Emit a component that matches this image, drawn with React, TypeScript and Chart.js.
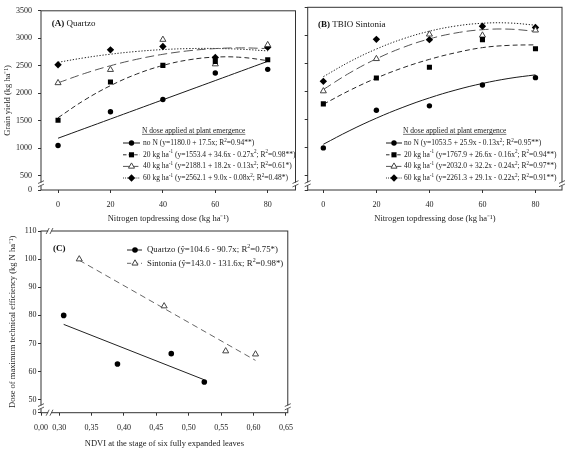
import React, { useEffect, useRef } from "react";
import { Chart, registerables } from "chart.js";
Chart.register(...registerables);

const SERIF = "'Liberation Serif', 'Times New Roman', Times, serif";

// ---------------- data ----------------
const nDoses = [0, 20, 40, 60, 80];
const quartzoNoN = [1048, 1663, 1886, 2367, 2434];
const quartzo20 = [1506, 2205, 2506, 2580, 2608];
const quartzo40 = [2187, 2428, 2976, 2530, 2880];
const quartzo60 = [2518, 2789, 2849, 2650, 2837];

const sintoniaNoN = [989, 1661, 1740, 2112, 2244];
const sintonia20 = [1776, 2238, 2430, 2922, 2760];
const sintonia40 = [2004, 2580, 3018, 3000, 3090];
const sintonia60 = [2178, 2928, 2922, 3162, 3138];

const fitDoses = [0, 10, 20, 30, 40, 50, 60, 70, 80];
const quartzoFitNoN = [1180, 1355, 1530, 1705, 1880, 2055, 2230, 2405, 2580];
const quartzoFit20 = [1553, 1872, 2137, 2348, 2505, 2608, 2657, 2652, 2593];
const quartzoFit40 = [2188, 2357, 2500, 2617, 2708, 2773, 2812, 2825, 2812];
const quartzoFit60 = [2562, 2644, 2710, 2760, 2794, 2812, 2814, 2800, 2770];
const sintoniaFitNoN = [1054, 1300, 1520, 1714, 1882, 2024, 2140, 2230, 2294];
const sintoniaFit20 = [1768, 2018, 2236, 2420, 2570, 2690, 2780, 2820, 2830];
const sintoniaFit40 = [2032, 2330, 2580, 2782, 2936, 3042, 3100, 3110, 3072];
const sintoniaFit60 = [2261, 2530, 2755, 2936, 3073, 3166, 3215, 3220, 3181];

const ndviQuartzo = [0.307, 0.39, 0.473, 0.524];
const doseQuartzo = [80.0, 62.7, 66.4, 56.3];
const ndviSintonia = [0.331, 0.462, 0.557, 0.603];
const doseSintonia = [100.0, 83.3, 67.3, 66.2];
const fitNdviQuartzo = [0.307, 0.524];
const fitDoseQuartzo = [76.8, 57.1];
const fitNdviSintonia = [0.331, 0.603];
const fitDoseSintonia = [99.6, 64.0];

const doseTicks = [0, 20, 40, 60, 80];
const yieldTicks = [500, 1000, 1500, 2000, 2500, 3000, 3500];
const ndviTicks = [0.3, 0.35, 0.4, 0.45, 0.5, 0.55, 0.6, 0.65];
const mteTicks = [50, 60, 70, 80, 90, 100, 110];

const legendTitle = "N dose applied at plant emergence";
const quartzoLegend = [
  "no N (y=1180.0 + 17.5x; R^{2}=0.94**)",
  "20 kg ha^{-1} (y=1553.4 + 34.6x - 0.27x^{2}; R^{2}=0.98**)",
  "40 kg ha^{-1} (y=2188.1 + 18.2x - 0.13x^{2}; R^{2}=0.61*)",
  "60 kg ha^{-1} (y=2562.1 + 9.0x - 0.08x^{2}; R^{2}=0.48*)",
];
const sintoniaLegend = [
  "no N (y=1053.5 + 25.9x - 0.13x^{2}; R^{2}=0.95**)",
  "20 kg ha^{-1} (y=1767.9 + 26.6x - 0.16x^{2}; R^{2}=0.94**)",
  "40 kg ha^{-1} (y=2032.0 + 32.2x - 0.24x^{2}; R^{2}=0.97**)",
  "60 kg ha^{-1} (y=2261.3 + 29.1x - 0.22x^{2}; R^{2}=0.91**)",
];
const cLegend = [
  "Quartzo (ŷ=104.6 - 90.7x; R^{2}=0.75*)",
  "Sintonia (ŷ=143.0 - 131.6x; R^{2}=0.98*)",
];

// ---------------- helpers ----------------
type Seg = { t: string; sup?: boolean };
function parseRich(s: string): Seg[] {
  const out: Seg[] = [];
  const re = /\^\{([^}]*)\}/g;
  let last = 0;
  let m: RegExpExecArray | null;
  while ((m = re.exec(s))) {
    if (m.index > last) out.push({ t: s.slice(last, m.index) });
    out.push({ t: m[1], sup: true });
    last = re.lastIndex;
  }
  if (last < s.length) out.push({ t: s.slice(last) });
  return out;
}
function drawRich(ctx: CanvasRenderingContext2D, s: string, x: number, y: number, size: number, color = "#1a1a1a") {
  let cx = x;
  ctx.fillStyle = color;
  ctx.textBaseline = "middle";
  ctx.textAlign = "left";
  for (const seg of parseRich(s)) {
    const fs = seg.sup ? size * 0.68 : size;
    ctx.font = `${fs}px ${SERIF}`;
    ctx.fillText(seg.t, cx, y + (seg.sup ? -size * 0.36 : 0));
    cx += ctx.measureText(seg.t).width;
  }
  return cx - x;
}

type Style = {
  pointStyle: any;
  radius: number;
  fill: string;
  stroke: string;
  dash: number[];
  lineColor: string;
};

function drawMarker(ctx: CanvasRenderingContext2D, st: Style, x: number, y: number) {
  ctx.save();
  ctx.setLineDash([]);
  ctx.fillStyle = st.fill;
  ctx.strokeStyle = st.stroke;
  ctx.lineWidth = 1;
  const r = st.radius;
  if (st.pointStyle === "circle") {
    ctx.beginPath();
    ctx.arc(x, y, r, 0, Math.PI * 2);
    ctx.fill();
  } else if (st.pointStyle === "rect") {
    const h = r * Math.SQRT1_2;
    ctx.fillRect(x - h, y - h, 2 * h, 2 * h);
  } else if (st.pointStyle === "rectRot") {
    ctx.beginPath();
    ctx.moveTo(x, y - r);
    ctx.lineTo(x + r, y);
    ctx.lineTo(x, y + r);
    ctx.lineTo(x - r, y);
    ctx.closePath();
    ctx.fill();
  } else if (st.pointStyle === "triangle") {
    ctx.beginPath();
    let rad = 0;
    ctx.moveTo(x + Math.sin(rad) * r, y - Math.cos(rad) * r);
    rad += (2 * Math.PI) / 3;
    ctx.lineTo(x + Math.sin(rad) * r, y - Math.cos(rad) * r);
    rad += (2 * Math.PI) / 3;
    ctx.lineTo(x + Math.sin(rad) * r, y - Math.cos(rad) * r);
    ctx.closePath();
    ctx.fill();
    ctx.stroke();
  }
  ctx.restore();
}

function breakOnVertical(ctx: CanvasRenderingContext2D, x: number, y: number) {
  ctx.save();
  ctx.fillStyle = "#fff";
  ctx.fillRect(x - 2, y - 1.6, 4, 3.2);
  ctx.strokeStyle = "#333";
  ctx.lineWidth = 0.8;
  ctx.beginPath();
  ctx.moveTo(x - 3, y - 0.6);
  ctx.lineTo(x + 3, y - 3.4);
  ctx.moveTo(x - 3, y + 2.8);
  ctx.lineTo(x + 3, y + 0.0);
  ctx.stroke();
  ctx.restore();
}
function breakOnHorizontal(ctx: CanvasRenderingContext2D, x: number, y: number) {
  ctx.save();
  ctx.fillStyle = "#fff";
  ctx.fillRect(x - 1.6, y - 2, 3.2, 4);
  ctx.strokeStyle = "#333";
  ctx.lineWidth = 0.8;
  ctx.beginPath();
  ctx.moveTo(x - 3.6, y + 3);
  ctx.lineTo(x - 0.6, y - 3);
  ctx.moveTo(x + 0.2, y + 3);
  ctx.lineTo(x + 3.2, y - 3);
  ctx.stroke();
  ctx.restore();
}

type Deco = {
  label: { bold: string; text: string; x: number; y: number; size: number };
  legend: {
    title?: string;
    titleX?: number;
    titleY?: number;
    rows: string[];
    rowYs: number[];
    lineX0: number;
    lineX1: number;
    markerX: number;
    textX: number;
    size: number;
    styles: Style[];
  };
  breaksY: number[];
  breaksX: number[];
};

function decoPlugin(d: Deco) {
  return {
    id: "deco",
    afterDraw(chart: any) {
      const ctx: CanvasRenderingContext2D = chart.ctx;
      const a = chart.chartArea;
      ctx.save();
      ctx.strokeStyle = "#333";
      ctx.lineWidth = 1;
      ctx.setLineDash([]);
      ctx.strokeRect(a.left, a.top, a.right - a.left, a.bottom - a.top);
      const ys = chart.scales.y;
      const xs = chart.scales.x;
      for (const v of d.breaksY) {
        const py = ys.getPixelForValue(v);
        breakOnVertical(ctx, a.left, py);
        breakOnVertical(ctx, a.right, py);
      }
      for (const v of d.breaksX) {
        const px = xs.getPixelForValue(v);
        breakOnHorizontal(ctx, px, a.bottom);
        breakOnHorizontal(ctx, px, a.top);
      }
      // panel label
      const L = d.label;
      ctx.fillStyle = "#111";
      ctx.textBaseline = "middle";
      ctx.textAlign = "left";
      ctx.font = `bold ${L.size}px ${SERIF}`;
      ctx.fillText(L.bold, L.x, L.y);
      const bw = ctx.measureText(L.bold).width;
      ctx.font = `${L.size}px ${SERIF}`;
      ctx.fillText(L.text, L.x + bw, L.y);
      // legend
      const G = d.legend;
      if (G.title) {
        ctx.font = `${G.size}px ${SERIF}`;
        ctx.fillStyle = "#1a1a1a";
        ctx.fillText(G.title, G.titleX!, G.titleY!);
        const tw = ctx.measureText(G.title).width;
        ctx.strokeStyle = "#1a1a1a";
        ctx.lineWidth = 0.6;
        ctx.beginPath();
        ctx.moveTo(G.titleX!, G.titleY! + G.size * 0.45);
        ctx.lineTo(G.titleX! + tw, G.titleY! + G.size * 0.45);
        ctx.stroke();
      }
      G.rows.forEach((row, i) => {
        const st = G.styles[i];
        const y = G.rowYs[i];
        ctx.save();
        ctx.strokeStyle = st.lineColor;
        ctx.lineWidth = 1;
        ctx.setLineDash(st.dash.map((v) => v * 0.7));
        ctx.beginPath();
        ctx.moveTo(G.lineX0, y);
        ctx.lineTo(G.lineX1, y);
        ctx.stroke();
        ctx.restore();
        drawMarker(ctx, st, G.markerX, y);
        drawRich(ctx, row, G.textX, y, G.size);
      });
      ctx.restore();
    },
  };
}

function pts(xs: number[], ys: number[]) {
  return xs.map((x, i) => ({ x, y: ys[i] }));
}

function pointDataset(data: any[], st: Style) {
  return {
    data,
    showLine: false,
    pointStyle: st.pointStyle,
    pointRadius: st.radius,
    pointHoverRadius: st.radius,
    pointBackgroundColor: st.fill,
    pointBorderColor: st.stroke,
    pointBorderWidth: st.pointStyle === "triangle" ? 1 : 0,
  };
}
function lineDataset(data: any[], st: Style) {
  return {
    data,
    showLine: true,
    pointRadius: 0,
    borderColor: st.lineColor,
    borderWidth: 1,
    borderDash: st.dash,
    tension: 0.4,
    fill: false,
  };
}

function axisFont(size: number) {
  return { family: SERIF, size };
}

type PanelSpec = {
  left: number;
  top: number;
  width: number;
  height: number;
  build: () => any;
};

function Panel({ spec }: { spec: PanelSpec }) {
  const ref = useRef<HTMLCanvasElement | null>(null);
  useEffect(() => {
    if (!ref.current) return;
    const chart = new Chart(ref.current, spec.build());
    return () => chart.destroy();
  }, []);
  return (
    <canvas
      ref={ref}
      width={spec.width}
      height={spec.height}
      style={{ position: "absolute", left: spec.left, top: spec.top, width: spec.width, height: spec.height }}
    />
  );
}

// -------- yield panels (A and B) --------
const Y_MIN = 237.5;
const Y_MAX = 3500;

function yieldStyles(): Style[] {
  return [
    { pointStyle: "circle", radius: 2.7, fill: "#000", stroke: "#000", dash: [], lineColor: "#1a1a1a" },
    { pointStyle: "rect", radius: 3.6, fill: "#000", stroke: "#000", dash: [5, 3], lineColor: "#2a2a2a" },
    { pointStyle: "triangle", radius: 3.5, fill: "#fff", stroke: "#444", dash: [9, 4], lineColor: "#555" },
    { pointStyle: "rectRot", radius: 3.7, fill: "#000", stroke: "#000", dash: [1.3, 1.7], lineColor: "#222" },
  ];
}

function yieldConfig(opts: {
  series: number[][];
  fits: number[][];
  legendRows: string[];
  showYLabels: boolean;
  xMin: number;
  xMax: number;
  padLeft: number;
  padRight: number;
  yAxisWidth: number;
  height: number;
  label: { bold: string; text: string; x: number; y: number };
  legendPos: { titleX: number; lineX0: number; lineX1: number; markerX: number; textX: number };
}) {
  const styles = yieldStyles();
  const datasets: any[] = [];
  opts.series.forEach((s, i) => datasets.push(pointDataset(pts(nDoses, s), styles[i])));
  opts.fits.forEach((f, i) => datasets.push(lineDataset(pts(fitDoses, f), styles[i])));
  const deco: Deco = {
    label: { ...opts.label, size: 9 },
    legend: {
      title: legendTitle,
      titleX: opts.legendPos.titleX,
      titleY: 131,
      rows: opts.legendRows,
      rowYs: [143, 154.8, 166.4, 178],
      lineX0: opts.legendPos.lineX0,
      lineX1: opts.legendPos.lineX1,
      markerX: opts.legendPos.markerX,
      textX: opts.legendPos.textX,
      size: 7.5,
      styles,
    },
    breaksY: [345],
    breaksX: [],
  };
  return {
    type: "scatter",
    data: { datasets },
    plugins: [decoPlugin(deco)],
    options: {
      responsive: false,
      animation: false,
      events: [],
      layout: { padding: { left: opts.padLeft, top: 7.3, right: opts.padRight, bottom: 0 } },
      plugins: { legend: { display: false }, tooltip: { enabled: false } },
      scales: {
        x: {
          type: "linear",
          min: opts.xMin,
          max: opts.xMax,
          afterBuildTicks: (s: any) => {
            s.ticks = doseTicks.map((v) => ({ value: v }));
          },
          afterFit: (s: any) => {
            s.height = opts.height - 190;
          },
          ticks: {
            font: axisFont(8),
            color: "#222",
            padding: 7,
            maxRotation: 0,
            autoSkip: false,
            callback: (v: any) => String(v),
          },
          grid: { display: true, drawOnChartArea: false, drawTicks: true, tickLength: 3, color: "#333" },
          border: { display: false },
          title: {
            display: true,
            text: "Nitrogen topdressing dose (kg ha⁻¹)",
            font: axisFont(8.5),
            color: "#222",
            padding: { top: 0, bottom: 2.5 },
          },
        },
        y: {
          type: "linear",
          min: Y_MIN,
          max: Y_MAX,
          afterBuildTicks: (s: any) => {
            s.ticks = [Y_MIN, ...yieldTicks].map((v) => ({ value: v }));
          },
          afterFit: (s: any) => {
            s.width = opts.yAxisWidth;
          },
          ticks: {
            display: opts.showYLabels,
            font: axisFont(8),
            color: "#222",
            padding: 6,
            autoSkip: false,
            callback: (v: any) => (v === Y_MIN ? "0" : String(v)),
          },
          grid: { display: true, drawOnChartArea: false, drawTicks: true, tickLength: 3, color: "#333" },
          border: { display: false },
          title: {
            display: opts.showYLabels,
            text: "Grain yield (kg ha⁻¹)",
            font: axisFont(8.5),
            color: "#222",
            padding: { top: 3, bottom: 0 },
          },
        },
      },
    },
  };
}

const panelA: PanelSpec = {
  left: 0,
  top: 0,
  width: 300,
  height: 226,
  build: () =>
    yieldConfig({
      series: [quartzoNoN, quartzo20, quartzo40, quartzo60],
      fits: [quartzoFitNoN, quartzoFit20, quartzoFit40, quartzoFit60],
      legendRows: quartzoLegend,
      showYLabels: true,
      xMin: -6.5,
      xMax: 90.6,
      padLeft: 0,
      padRight: 4.3,
      yAxisWidth: 41,
      height: 226,
      label: { bold: "(A)", text: " Quartzo", x: 51.7, y: 24 },
      legendPos: { titleX: 142, lineX0: 123, lineX1: 140, markerX: 131.5, textX: 143 },
    }),
};

const panelB: PanelSpec = {
  left: 300,
  top: 0,
  width: 270,
  height: 226,
  build: () =>
    yieldConfig({
      series: [sintoniaNoN, sintonia20, sintonia40, sintonia60],
      fits: [sintoniaFitNoN, sintoniaFit20, sintoniaFit40, sintoniaFit60],
      legendRows: sintoniaLegend,
      showYLabels: false,
      xMin: -5.9,
      xMax: 90,
      padLeft: 0,
      padRight: 8,
      yAxisWidth: 7.7,
      height: 226,
      label: { bold: "(B)", text: " TBIO Sintonia", x: 18, y: 25 },
      legendPos: { titleX: 103, lineX0: 86, lineX1: 102, markerX: 94, textX: 104 },
    }),
};

// -------- panel C --------
const C_XMIN = 0.272;
const C_XMAX = 0.6528;
const C_YMIN = 45.4;
const C_YMAX = 110;

const panelC: PanelSpec = {
  left: 0,
  top: 224,
  width: 300,
  height: 229,
  build: () => {
    const qStyle: Style = { pointStyle: "circle", radius: 2.8, fill: "#000", stroke: "#000", dash: [], lineColor: "#222" };
    const sStyle: Style = { pointStyle: "triangle", radius: 3.5, fill: "#fff", stroke: "#444", dash: [6, 4], lineColor: "#666" };
    const deco: Deco = {
      label: { bold: "(C)", text: "", x: 53, y: 24.3, size: 9 },
      legend: {
        rows: cLegend,
        rowYs: [26, 39.3],
        lineX0: 127,
        lineX1: 142,
        markerX: 135,
        textX: 147,
        size: 8.8,
        styles: [qStyle, sStyle],
      },
      breaksY: [47.4],
      breaksX: [0.2855],
    };
    return {
      type: "scatter",
      data: {
        datasets: [
          pointDataset(pts(ndviQuartzo, doseQuartzo), qStyle),
          pointDataset(pts(ndviSintonia, doseSintonia), sStyle),
          { ...lineDataset(pts(fitNdviQuartzo, fitDoseQuartzo), qStyle), tension: 0 },
          { ...lineDataset(pts(fitNdviSintonia, fitDoseSintonia), sStyle), tension: 0 },
        ],
      },
      plugins: [decoPlugin(deco)],
      options: {
        responsive: false,
        animation: false,
        events: [],
        layout: { padding: { left: 0, top: 7, right: 4.3, bottom: 0 } },
        plugins: { legend: { display: false }, tooltip: { enabled: false } },
        scales: {
          x: {
            type: "linear",
            min: C_XMIN,
            max: C_XMAX,
            afterBuildTicks: (s: any) => {
              s.ticks = [C_XMIN, ...ndviTicks].map((v) => ({ value: v }));
            },
            afterFit: (s: any) => {
              s.height = 229 - 188.7;
            },
            ticks: {
              font: axisFont(8),
              color: "#222",
              padding: 7,
              maxRotation: 0,
              autoSkip: false,
              callback: (v: any) => (v === C_XMIN ? "0,00" : Number(v).toFixed(2).replace(".", ",")),
            },
            grid: { display: true, drawOnChartArea: false, drawTicks: true, tickLength: 3, color: "#333" },
            border: { display: false },
            title: {
              display: true,
              text: "NDVI at the stage of six fully expanded leaves",
              font: axisFont(8.5),
              color: "#222",
              padding: { top: 0, bottom: 4.5 },
            },
          },
          y: {
            type: "linear",
            min: C_YMIN,
            max: C_YMAX,
            afterBuildTicks: (s: any) => {
              s.ticks = [C_YMIN, ...mteTicks].map((v) => ({ value: v }));
            },
            afterFit: (s: any) => {
              s.width = 41;
            },
            ticks: {
              font: axisFont(8),
              color: "#222",
              padding: 1.5,
              autoSkip: false,
              callback: (v: any) => (v === C_YMIN ? "0" : String(v)),
            },
            grid: { display: true, drawOnChartArea: false, drawTicks: true, tickLength: 3, color: "#333" },
            border: { display: false },
            title: {
              display: true,
              text: "Dose of maximum technical efficiency (kg N ha⁻¹)",
              font: axisFont(8.5),
              color: "#222",
              padding: { top: 8, bottom: 0 },
            },
          },
        },
      },
    };
  },
};

export default function App() {
  useEffect(() => {
    document.body.style.margin = "0";
    document.body.style.background = "#fff";
  }, []);
  return (
    <div style={{ position: "fixed", left: 0, top: 0, width: 570, height: 453, background: "#fff", overflow: "hidden" }}>
      <Panel spec={panelA} />
      <Panel spec={panelB} />
      <Panel spec={panelC} />
    </div>
  );
}
